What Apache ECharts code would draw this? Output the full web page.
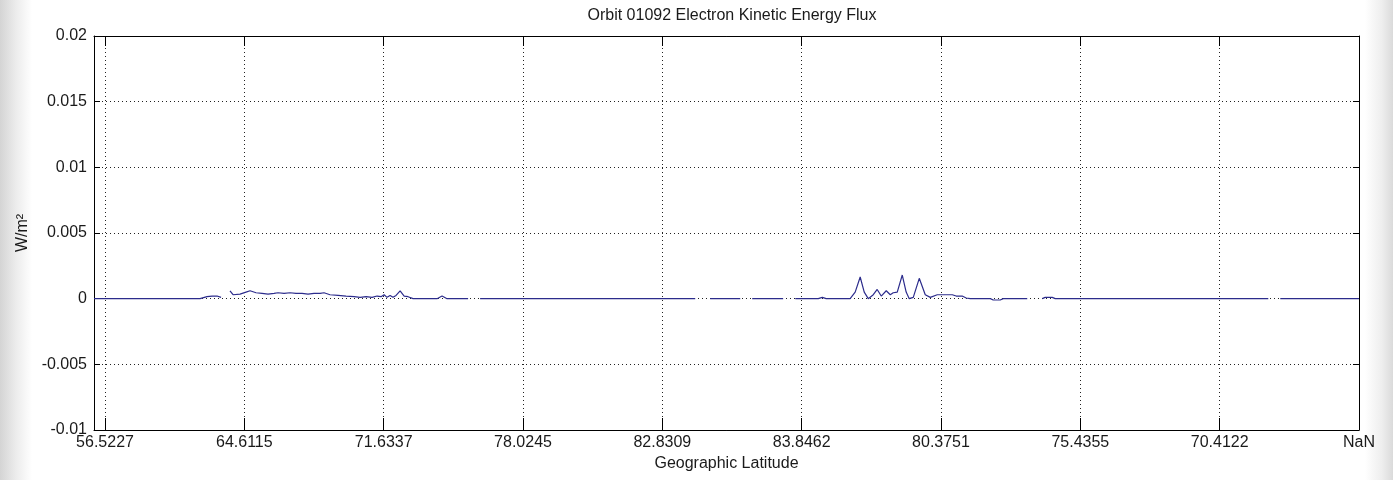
<!DOCTYPE html>
<html>
<head>
<meta charset="utf-8">
<script src="https://cdn.jsdelivr.net/npm/echarts@6/dist/echarts.min.js"></script>
<style>
  html, body { margin: 0; padding: 0; background: #ffffff; }
  #chart { width: 1393px; height: 480px; }
</style>
</head>
<body>
<div id="chart"></div>
<script>
// Orbit 01092: electron kinetic energy flux along the pass, plotted against sample number
const chartTitle = 'Orbit 01092 Electron Kinetic Energy Flux';
const xAxisName = 'Geographic Latitude';
const yAxisName = 'W/m\u00B2';

// Sample numbers where ticks sit, and the latitude printed at each
const tickSamples = [0, 1000, 2000, 3000, 4000, 5000, 6000, 7000, 8000, 9000];
const tickLabels = ['56.5227', '64.6115', '71.6337', '78.0245', '82.8309',
                    '83.8462', '80.3751', '75.4355', '70.4122', 'NaN'];
const sampleRange = [-79, 9000];
const yTicks = { min: -0.01, max: 0.02, step: 0.005 };

// Flux samples (W/m^2); null marks a data gap
const sampleIndex = [
  -79, 682, 732, 768, 804, 833, 861, 897, 919, 969, 1012, 1041, 1084, 1127, 1170,
  1213, 1242, 1285, 1328, 1371, 1414, 1457, 1500, 1544, 1572, 1615, 1673, 1730,
  1788, 1831, 1874, 1917, 1953, 1981, 2003, 2024, 2046, 2067, 2089, 2118, 2147,
  2175, 2211, 2383, 2419, 2455, 2606, 2640, 2692,
  4236, 4280, 4343, 4559, 4600, 4645, 4867, 4900, 4954,
  5119, 5148, 5176, 5348, 5384, 5420, 5449, 5478, 5514, 5542, 5571, 5607, 5636,
  5657, 5686, 5700, 5722, 5750, 5772, 5801, 5844, 5887, 5923, 5973, 6081, 6109,
  6152, 6181, 6210, 6354, 6375, 6425, 6447, 6619, 6660, 6727, 6748, 6798, 6820,
  8349, 8390, 8435, 9000
];
const flux = [
  0, 0, 0.00015, 0.0002, 0.0002, 0.0001, null, 0.0006, 0.0003, 0.00035, 0.0005, 0.0006, 0.00045, 0.0004, 0.00035,
  0.0004, 0.00045, 0.0004, 0.00045, 0.0004, 0.0004, 0.00035, 0.0004, 0.0004, 0.00045, 0.0003, 0.00025, 0.0002,
  0.00015, 0.0001, 0.00015, 0.0001, 0.0002, 0.00015, 0.0003, 0.0001, 0.00025, 0.0001, 0.00025, 0.0006, 0.0002,
  0.00015, 0, 0, 0.0002, 0, 0, null, 0,
  0, null, 0, 0, null, 0, 0, null, 0,
  0, 0.0001, 0, 0, 0.0005, 0.00165, 0.0005, 0, 0.0003, 0.0007, 0.0002, 0.0006, 0.0003,
  0.00045, 0.0005, 0.0004, 0.0018, 0.0005, 0, 0.0001, 0.00155, 0.0003, 0.0001, 0.0003, 0.0003, 0.0002,
  0.0002, 0.00005, 0, 0, -0.0001, -0.0001, 0, 0, null, 0, 0.0001, 0.0001, 0,
  0, null, 0, 0
];

const seriesData = sampleIndex.map((s, i) => [s, flux[i]]);

const textFont = '"Liberation Sans", Arial, sans-serif';
const ink = '#1a1a1a';
const fontPx = 16;
const gridDots = { color: '#222', width: 1, type: [1, 3] };

const chart = echarts.init(document.getElementById('chart'), null, { renderer: 'canvas' });

chart.setOption({
  animation: false,
  backgroundColor: '#ffffff',
  textStyle: { fontFamily: textFont },
  title: {
    text: chartTitle,
    left: 727,
    textAlign: 'center',
    top: 3,
    textStyle: { fontFamily: textFont, fontSize: fontPx, fontWeight: 'normal', color: ink }
  },
  graphic: [
    {
      type: 'rect', left: 0, top: 0, z: -10, silent: true,
      shape: { width: 32, height: 480 },
      style: {
        fill: new echarts.graphic.LinearGradient(0, 0, 1, 0, [
          { offset: 0, color: '#d4d4d4' },
          { offset: 0.5, color: '#ececec' },
          { offset: 1, color: '#ffffff' }
        ])
      }
    },
    {
      type: 'rect', right: 0, top: 0, z: -10, silent: true,
      shape: { width: 28, height: 480 },
      style: {
        fill: new echarts.graphic.LinearGradient(0, 0, 1, 0, [
          { offset: 0, color: '#ffffff' },
          { offset: 0.6, color: '#eeeeee' },
          { offset: 1, color: '#dadada' }
        ])
      }
    }
  ],
  grid: { left: 94, right: 34, top: 36, bottom: 50, containLabel: false, show: false },
  xAxis: [
    {
      type: 'value',
      position: 'bottom',
      min: sampleRange[0],
      max: sampleRange[1],
      name: xAxisName,
      nameLocation: 'middle',
      nameGap: 25,
      nameTextStyle: { fontFamily: textFont, fontSize: fontPx, color: ink },
      axisLine: { show: true, onZero: false, lineStyle: { color: '#000', width: 1 } },
      axisTick: { show: true, inside: true, length: 12, customValues: tickSamples,
                  lineStyle: { color: '#000', width: 1 } },
      axisLabel: {
        show: true, margin: 5, customValues: tickSamples,
        fontFamily: textFont, fontSize: fontPx, color: ink,
        formatter: v => tickLabels[tickSamples.indexOf(v)] ?? ''
      },
      splitLine: { show: true, lineStyle: gridDots }
    },
    {
      type: 'value',
      position: 'top',
      min: sampleRange[0],
      max: sampleRange[1],
      axisLine: { show: true, onZero: false, lineStyle: { color: '#000', width: 1 } },
      axisTick: { show: true, inside: true, length: 10, customValues: tickSamples,
                  lineStyle: { color: '#000', width: 1 } },
      axisLabel: { show: false },
      splitLine: { show: false }
    }
  ],
  yAxis: [
    {
      type: 'value',
      position: 'left',
      min: yTicks.min,
      max: yTicks.max,
      interval: yTicks.step,
      name: yAxisName,
      nameLocation: 'middle',
      nameGap: 62,
      nameRotate: 90,
      nameTextStyle: { fontFamily: textFont, fontSize: fontPx, color: ink },
      axisLine: { show: true, onZero: false, lineStyle: { color: '#000', width: 1 } },
      axisTick: { show: true, inside: true, length: 6, lineStyle: { color: '#000', width: 1 } },
      axisLabel: { show: true, margin: 7, fontFamily: textFont, fontSize: fontPx, color: ink },
      splitLine: { show: true, lineStyle: gridDots }
    },
    {
      type: 'value',
      position: 'right',
      min: yTicks.min,
      max: yTicks.max,
      interval: yTicks.step,
      axisLine: { show: true, onZero: false, lineStyle: { color: '#000', width: 1 } },
      axisTick: { show: true, inside: true, length: 6, lineStyle: { color: '#000', width: 1 } },
      axisLabel: { show: false },
      splitLine: { show: false }
    }
  ],
  series: [
    {
      type: 'line',
      xAxisIndex: 0,
      yAxisIndex: 0,
      data: seriesData,
      showSymbol: false,
      connectNulls: false,
      clip: true,
      lineStyle: { color: '#2c2c8c', width: 1.2 },
      itemStyle: { color: '#2c2c8c' },
      z: 3
    }
  ]
});
</script>
</body>
</html>
